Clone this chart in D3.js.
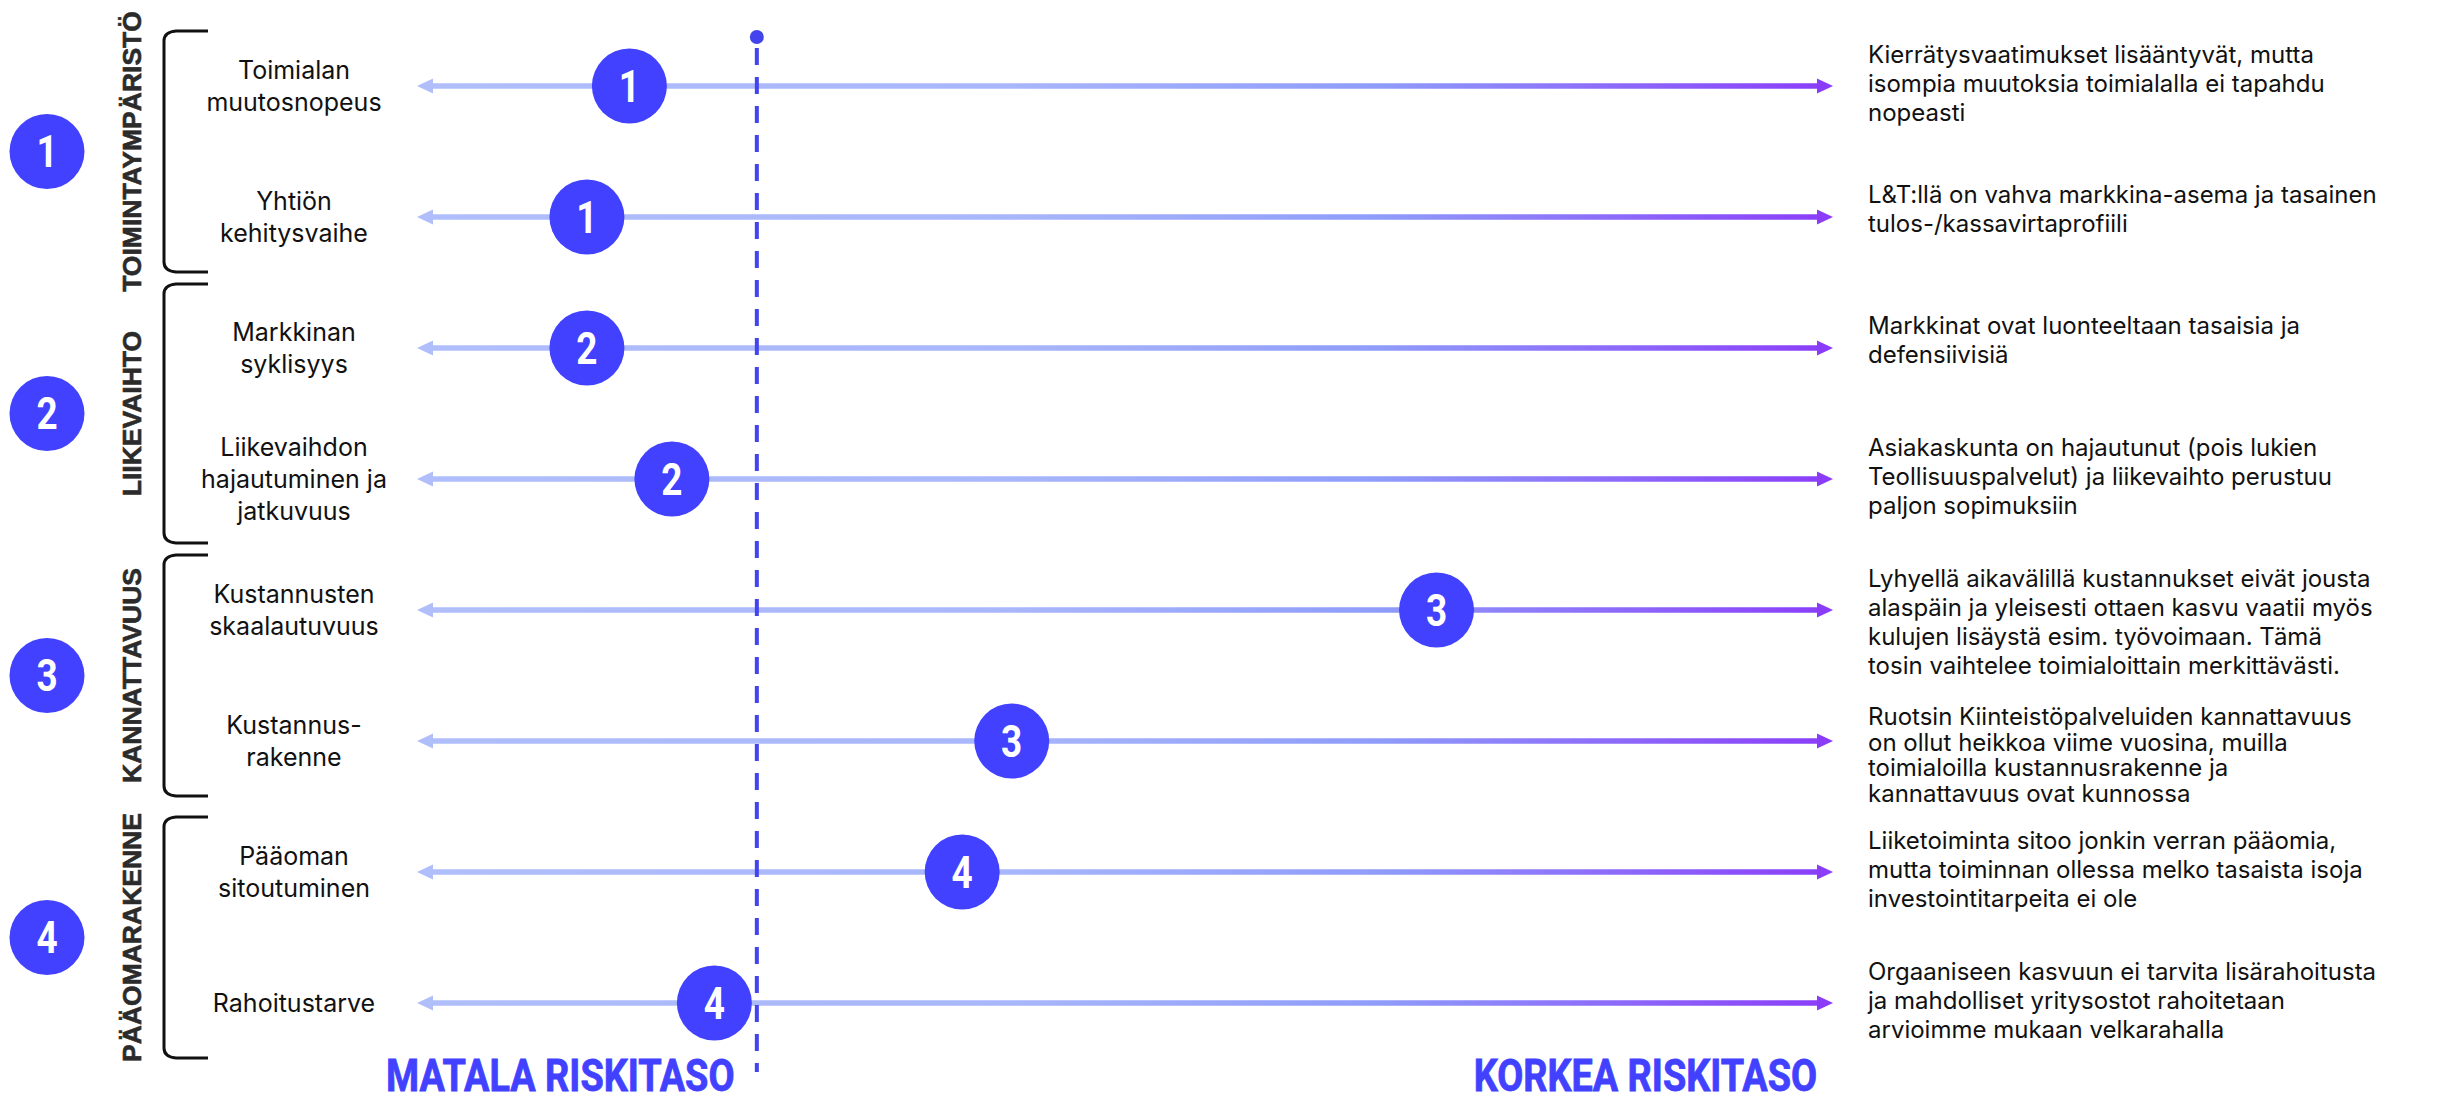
<!DOCTYPE html>
<html>
<head>
<meta charset="utf-8">
<script src="https://cdn.jsdelivr.net/npm/d3@7"></script>
<style>
  html, body { margin: 0; padding: 0; background: #ffffff; }
  svg { display: block; }
</style>
</head>
<body>
<svg id="chart" width="2440" height="1097"></svg>
<script>
// ---------------- DATA ----------------
const groups = ["TOIMINTAYMPÄRISTÖ", "LIIKEVAIHTO", "KANNATTAVUUS", "PÄÄOMARAKENNE"];
const groupNumbers = ["1", "2", "3", "4"];

const factors = [
  "Toimialan\nmuutosnopeus",
  "Yhtiön\nkehitysvaihe",
  "Markkinan\nsyklisyys",
  "Liikevaihdon\nhajautuminen ja\njatkuvuus",
  "Kustannusten\nskaalautuvuus",
  "Kustannus-\nrakenne",
  "Pääoman\nsitoutuminen",
  "Rahoitustarve"
];
const factorGroup = [0, 0, 1, 1, 2, 2, 3, 3];
const factorNumbers = ["1", "1", "2", "2", "3", "3", "4", "4"];
// risk position on a 0 (low) – 10 (high) scale
const riskScores = [1.5, 1.2, 1.2, 1.8, 7.2, 4.2, 3.85, 2.1];
const threshold = 2.4;

const descriptions = [
  "Kierrätysvaatimukset lisääntyvät, mutta\nisompia muutoksia toimialalla ei tapahdu\nnopeasti",
  "L&T:llä on vahva markkina-asema ja tasainen\ntulos-/kassavirtaprofiili",
  "Markkinat ovat luonteeltaan tasaisia ja\ndefensiivisiä",
  "Asiakaskunta on hajautunut (pois lukien\nTeollisuuspalvelut) ja liikevaihto perustuu\npaljon sopimuksiin",
  "Lyhyellä aikavälillä kustannukset eivät jousta\nalaspäin ja yleisesti ottaen kasvu vaatii myös\nkulujen lisäystä esim. työvoimaan. Tämä\ntosin vaihtelee toimialoittain merkittävästi.",
  "Ruotsin Kiinteistöpalveluiden kannattavuus\non ollut heikkoa viime vuosina, muilla\ntoimialoilla kustannusrakenne ja\nkannattavuus ovat kunnossa",
  "Liiketoiminta sitoo jonkin verran pääomia,\nmutta toiminnan ollessa melko tasaista isoja\ninvestointitarpeita ei ole",
  "Orgaaniseen kasvuun ei tarvita lisärahoitusta\nja mahdolliset yritysostot rahoitetaan\narvioimme mukaan velkarahalla"
];
const axisLabels = ["MATALA RISKITASO", "KORKEA RISKITASO"];
const scaleDomain = [0, 10];

// ---------------- LAYOUT ----------------
const W = 2440, H = 1097;
const svg = d3.select("#chart");

const x = d3.scaleLinear().domain(scaleDomain).range([417, 1833]);
const y = d3.scalePoint().domain(d3.range(factors.length)).range([86, 1003]);

const BLUE = "#4141ff";
const LIGHT = "#b0befb";
const PURPLE = "#8a3cf9";
const headLen = 16, headHalf = 7.5;
// per-row typographic tweaks for the description blocks (style, not data)
const descStyle = { 5: { lh: 25.5, off: -16 } };

// gradient for arrow lines
const defs = svg.append("defs");
const grad = defs.append("linearGradient")
  .attr("id", "arrowGrad")
  .attr("gradientUnits", "userSpaceOnUse")
  .attr("x1", x(scaleDomain[0])).attr("x2", x(scaleDomain[1]))
  .attr("y1", 0).attr("y2", 0);
grad.append("stop").attr("offset", "0%").attr("stop-color", LIGHT);
grad.append("stop").attr("offset", "42%").attr("stop-color", "#a8b6fb");
grad.append("stop").attr("offset", "68%").attr("stop-color", "#8f9cfa");
grad.append("stop").attr("offset", "100%").attr("stop-color", PURPLE);

// ---------------- GROUPS (left) ----------------
const groupInfo = groups.map((g, gi) => {
  const idx = d3.range(factors.length).filter(i => factorGroup[i] === gi);
  const ys = idx.map(i => y(i));
  const maxLines = d3.max(idx, i => factors[i].split("\n").length);
  const pad = maxLines > 2 ? 64 : 55;
  return { name: g, num: groupNumbers[gi], top: d3.min(ys) - pad, bottom: d3.max(ys) + pad, center: (d3.min(ys) + d3.max(ys)) / 2 };
});

const gGroups = svg.append("g");
groupInfo.forEach(gr => {
  gGroups.append("circle")
    .attr("cx", 47).attr("cy", gr.center).attr("r", 37.5)
    .attr("fill", BLUE);
  gGroups.append("text")
    .attr("transform", `translate(47,${gr.center + 15.5}) scale(0.84,1)`)
    .attr("text-anchor", "middle")
    .attr("font-family", "Roboto, 'Liberation Sans', sans-serif")
    .attr("font-weight", 700)
    .attr("font-size", 44)
    .attr("fill", "#ffffff")
    .text(gr.num);
  gGroups.append("text")
    .attr("transform", `translate(141,${gr.center}) rotate(-90)`)
    .attr("text-anchor", "middle")
    .attr("font-family", "'Liberation Sans', Arial, sans-serif")
    .attr("font-weight", 700)
    .attr("font-size", 26.5)
    .attr("fill", "#2b2b2b")
    .attr("stroke", "#2b2b2b")
    .attr("stroke-width", 0.6)
    .text(gr.name);
  const bx = 164, bx2 = 208, t = gr.top, b = gr.bottom;
  const p = d3.path();
  p.moveTo(bx2, t);
  p.lineTo(bx + 12, t);
  p.quadraticCurveTo(bx, t + 1, bx, t + 10);
  p.lineTo(bx, b - 10);
  p.quadraticCurveTo(bx, b - 1, bx + 12, b);
  p.lineTo(bx2, b);
  gGroups.append("path")
    .attr("d", p.toString())
    .attr("fill", "none")
    .attr("stroke", "#111111")
    .attr("stroke-width", 3);
});

// ---------------- FACTOR LABELS ----------------
const gLabels = svg.append("g")
  .attr("font-family", "Inter, 'Noto Sans', sans-serif")
  .attr("font-size", 25)
  .attr("fill", "#111111");
factors.forEach((f, i) => {
  const lines = f.split("\n");
  const lh = 32;
  const t = gLabels.append("text").attr("text-anchor", "middle");
  lines.forEach((ln, li) => {
    t.append("tspan")
      .attr("x", 294)
      .attr("y", y(i) + (li - (lines.length - 1) / 2) * lh + 9)
      .text(ln);
  });
});

// ---------------- ARROWS ----------------
const gArrows = svg.append("g");
factors.forEach((f, i) => {
  const yy = y(i);
  const x0 = x(scaleDomain[0]), x1 = x(scaleDomain[1]);
  gArrows.append("line")
    .attr("x1", x0 + headLen - 2).attr("x2", x1 - headLen + 2)
    .attr("y1", yy).attr("y2", yy)
    .attr("stroke", "url(#arrowGrad)")
    .attr("stroke-width", 5.5);
  gArrows.append("path")
    .attr("d", `M${x0},${yy} L${x0 + headLen},${yy - headHalf} L${x0 + headLen},${yy + headHalf} Z`)
    .attr("fill", LIGHT);
  gArrows.append("path")
    .attr("d", `M${x1},${yy} L${x1 - headLen},${yy - headHalf} L${x1 - headLen},${yy + headHalf} Z`)
    .attr("fill", PURPLE);
});

// ---------------- RISK MARKERS ----------------
const gMarks = svg.append("g");
riskScores.forEach((v, i) => {
  gMarks.append("circle")
    .attr("cx", x(v)).attr("cy", y(i)).attr("r", 37.5)
    .attr("fill", BLUE);
  gMarks.append("text")
    .attr("transform", `translate(${x(v)},${y(i) + 15.5}) scale(0.84,1)`)
    .attr("text-anchor", "middle")
    .attr("font-family", "Roboto, 'Liberation Sans', sans-serif")
    .attr("font-weight", 700)
    .attr("font-size", 44)
    .attr("fill", "#ffffff")
    .text(factorNumbers[i]);
});

// ---------------- THRESHOLD LINE ----------------
const tx = x(threshold);
svg.append("line")
  .attr("x1", tx).attr("x2", tx)
  .attr("y1", 48).attr("y2", 1072)
  .attr("stroke", "#4444ee")
  .attr("stroke-width", 4)
  .attr("stroke-dasharray", "17,12");
svg.append("circle")
  .attr("cx", tx).attr("cy", 37).attr("r", 7)
  .attr("fill", "#4444ee");

// ---------------- DESCRIPTIONS ----------------
const gDesc = svg.append("g")
  .attr("font-family", "Inter, 'Noto Sans', sans-serif")
  .attr("font-size", 24)
  .attr("fill", "#111111");
descriptions.forEach((d, i) => {
  const lines = d.split("\n");
  const st = descStyle[i] || {};
  const lh = st.lh || 29;
  const off = st.off !== undefined ? st.off : (lines.length === 2 ? -14 : -23);
  const first = y(i) + off;
  const t = gDesc.append("text");
  lines.forEach((ln, li) => {
    t.append("tspan")
      .attr("x", 1868)
      .attr("y", first + li * lh)
      .text(ln);
  });
});

// ---------------- AXIS LABELS ----------------
const gAxis = svg.append("g")
  .attr("font-family", "Roboto, 'Liberation Sans', sans-serif")
  .attr("font-weight", 700)
  .attr("font-size", 44)
  .attr("fill", BLUE)
  .attr("stroke", BLUE)
  .attr("stroke-width", 0.8);
gAxis.append("text")
  .attr("transform", `translate(386,1091) scale(0.86,1)`)
  .attr("text-anchor", "start")
  .text(axisLabels[0]);
gAxis.append("text")
  .attr("transform", `translate(1817,1091) scale(0.86,1)`)
  .attr("text-anchor", "end")
  .text(axisLabels[1]);
</script>
</body>
</html>
